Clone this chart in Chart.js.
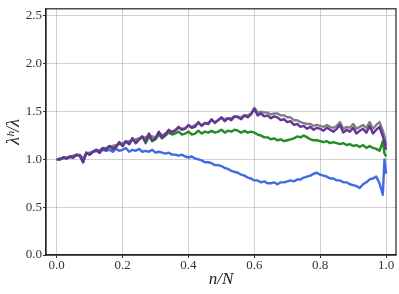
<!DOCTYPE html>
<html><head><meta charset="utf-8">
<script src="https://cdn.jsdelivr.net/npm/chart.js@4/dist/chart.umd.min.js"></script>
<style>html,body{margin:0;padding:0;background:#fff}</style>
</head><body>
<canvas id="c" width="399" height="294"></canvas>
<script>
const nN = [0.00,0.01,0.02,0.03,0.04,0.05,0.06,0.07,0.08,0.09,0.10,0.11,0.12,0.13,0.14,0.15,0.16,0.17,0.18,0.19,0.20,0.21,0.22,0.23,0.24,0.25,0.26,0.27,0.28,0.29,0.30,0.31,0.32,0.33,0.34,0.35,0.36,0.37,0.38,0.39,0.40,0.41,0.42,0.43,0.44,0.45,0.46,0.47,0.48,0.49,0.50,0.51,0.52,0.53,0.54,0.55,0.56,0.57,0.58,0.59,0.60,0.61,0.62,0.63,0.64,0.65,0.66,0.67,0.68,0.69,0.70,0.71,0.72,0.73,0.74,0.75,0.76,0.77,0.78,0.79,0.80,0.81,0.82,0.83,0.84,0.85,0.86,0.87,0.88,0.89,0.90,0.91,0.92,0.93,0.94,0.95,0.96,0.97,0.98,0.99,0.995,1.00];

const purple = [1.00,1.00,1.02,1.01,1.03,1.02,1.05,1.04,0.97,1.07,1.05,1.08,1.10,1.07,1.12,1.10,1.14,1.11,1.13,1.18,1.14,1.19,1.16,1.22,1.17,1.21,1.24,1.19,1.27,1.20,1.22,1.29,1.23,1.26,1.31,1.28,1.30,1.34,1.31,1.32,1.36,1.33,1.34,1.39,1.35,1.38,1.37,1.42,1.38,1.41,1.44,1.40,1.43,1.41,1.45,1.44,1.42,1.46,1.44,1.47,1.53,1.46,1.48,1.45,1.46,1.43,1.45,1.44,1.41,1.42,1.39,1.40,1.36,1.37,1.34,1.35,1.32,1.34,1.31,1.33,1.32,1.30,1.33,1.31,1.29,1.32,1.36,1.28,1.31,1.29,1.33,1.27,1.30,1.32,1.28,1.35,1.27,1.31,1.34,1.24,1.18,1.10];

const gray = [1.00,1.01,1.01,1.02,1.02,1.04,1.04,1.05,1.01,1.06,1.07,1.08,1.09,1.10,1.11,1.12,1.13,1.14,1.15,1.16,1.17,1.18,1.19,1.20,1.21,1.22,1.23,1.23,1.25,1.24,1.23,1.28,1.25,1.27,1.30,1.29,1.31,1.33,1.32,1.33,1.35,1.34,1.36,1.38,1.36,1.38,1.38,1.41,1.39,1.41,1.43,1.42,1.43,1.43,1.45,1.45,1.44,1.46,1.46,1.48,1.54,1.49,1.50,1.49,1.49,1.47,1.48,1.48,1.46,1.46,1.44,1.44,1.41,1.41,1.39,1.38,1.37,1.37,1.35,1.36,1.35,1.34,1.36,1.34,1.33,1.35,1.39,1.32,1.34,1.33,1.37,1.32,1.34,1.36,1.33,1.39,1.32,1.36,1.39,1.30,1.24,1.15];

const green = [1.00,1.00,1.02,1.01,1.03,1.02,1.05,1.04,0.97,1.07,1.05,1.08,1.10,1.07,1.12,1.10,1.14,1.11,1.13,1.18,1.14,1.19,1.16,1.22,1.17,1.21,1.24,1.17,1.24,1.19,1.21,1.26,1.22,1.25,1.28,1.26,1.27,1.29,1.26,1.27,1.29,1.26,1.27,1.30,1.27,1.29,1.28,1.30,1.28,1.29,1.31,1.28,1.30,1.29,1.31,1.30,1.28,1.30,1.28,1.29,1.28,1.26,1.25,1.23,1.23,1.21,1.22,1.20,1.21,1.19,1.20,1.21,1.22,1.24,1.23,1.25,1.23,1.21,1.20,1.20,1.19,1.18,1.19,1.17,1.18,1.17,1.16,1.17,1.15,1.16,1.14,1.15,1.13,1.15,1.12,1.14,1.12,1.11,1.09,1.19,1.06,1.03];

const blue = [1.00,1.00,1.02,1.01,1.03,1.02,1.05,1.04,0.98,1.07,1.05,1.08,1.09,1.07,1.10,1.09,1.10,1.08,1.11,1.09,1.10,1.12,1.08,1.10,1.09,1.11,1.08,1.09,1.08,1.10,1.07,1.08,1.07,1.06,1.07,1.05,1.05,1.04,1.05,1.03,1.02,1.03,1.01,1.00,0.99,0.97,0.97,0.96,0.94,0.94,0.93,0.91,0.90,0.88,0.87,0.86,0.84,0.83,0.81,0.80,0.78,0.78,0.76,0.77,0.75,0.75,0.76,0.74,0.76,0.76,0.77,0.78,0.77,0.79,0.79,0.81,0.82,0.83,0.85,0.86,0.84,0.83,0.82,0.80,0.80,0.78,0.78,0.76,0.76,0.74,0.73,0.72,0.70,0.74,0.76,0.79,0.80,0.82,0.75,0.63,1.00,0.85];

const xTicks = [0.0,0.2,0.4,0.6,0.8,1.0];
const yTicks = [0.0,0.5,1.0,1.5,2.0,2.5];

function pts(ys){ return nN.map((x,i)=>({x:x,y:ys[i]})); }

const frame = {
  id:'frame',
  afterDatasetsDraw(chart){
    const a = chart.chartArea, ctx = chart.ctx;
    ctx.save(); ctx.strokeStyle='#222'; ctx.lineWidth=1.2;
    ctx.strokeRect(a.left, a.top, a.right-a.left, a.bottom-a.top);
    ctx.restore();
  }
};

const serif = "'Liberation Serif', 'DejaVu Serif', serif";
new Chart(document.getElementById('c'), {
  type:'line',
  data:{datasets:[
    {data:pts(purple), borderColor:'#663399', borderWidth:2.4},
    {data:pts(green), borderColor:'#228B22', borderWidth:2.4},
    {data:pts(blue), borderColor:'#4169E1', borderWidth:2.4},
    {data:pts(gray), borderColor:'#808080', borderWidth:2.4}
  ]},
  options:{
    responsive:false, animation:false,
    parsing:false,
    elements:{point:{radius:0}, line:{tension:0, borderJoinStyle:'round'}},
    layout:{padding:{top:3,right:3,left:0,bottom:0}},
    plugins:{legend:{display:false}, tooltip:{enabled:false}},
    scales:{
      x:{type:'linear', min:-0.0325, max:1.03,
        afterBuildTicks(s){ s.ticks = xTicks.map(v=>({value:v})); },
        afterFit(s){ s.height = 39; },
        ticks:{callback:v=>v.toFixed(1), color:'#333', font:{family:serif,size:13}, padding:0, maxRotation:0},
        grid:{color:'rgba(150,150,150,0.45)', lineWidth:1, tickLength:3, tickColor:'#333'},
        border:{color:'#222', width:1.2},
        title:{display:true, text:'n/N', color:'#222', font:{family:serif,size:17,style:'italic'}, padding:{top:2,bottom:4}}
      },
      y:{type:'linear', min:0, max:2.575,
        afterBuildTicks(s){ s.ticks = yTicks.map(v=>({value:v})); },
        afterFit(s){ s.width = 46; },
        ticks:{callback:v=>v.toFixed(1), color:'#333', font:{family:serif,size:13}, padding:1},
        grid:{color:'rgba(150,150,150,0.45)', lineWidth:1, tickLength:3, tickColor:'#333'},
        border:{color:'#222', width:1.2},
        title:{display:true, text:'λʰ/λ', color:'#222', font:{family:serif,size:18,style:'italic'}, padding:{top:3,bottom:4}}
      }
    }
  },
  plugins:[frame]
});
</script>
</body></html>
